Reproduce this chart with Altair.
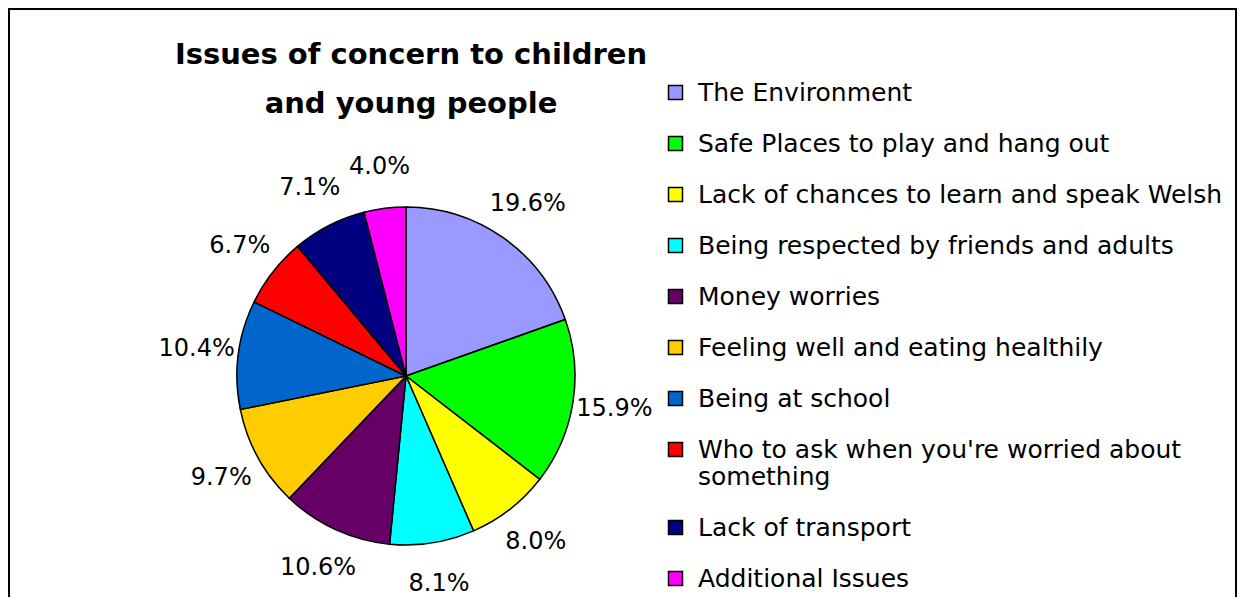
import altair as alt
import pandas as pd

categories = [
    "The Environment",
    "Safe Places to play and hang out",
    "Lack of chances to learn and speak Welsh",
    "Being respected by friends and adults",
    "Money worries",
    "Feeling well and eating healthily",
    "Being at school",
    "Who to ask when you're worried about something",
    "Lack of transport",
    "Additional Issues",
]
values = [19.6, 15.9, 8.0, 8.1, 10.6, 9.7, 10.4, 6.7, 7.1, 4.0]
colors = ["#9999FF", "#00FF00", "#FFFF00", "#00FFFF", "#660066",
          "#FFCC00", "#0066CC", "#FF0000", "#000080", "#FF00FF"]
title_lines = ["Issues of concern to children", "and young people"]

W, H = 1230, 589
CX, CY = 398, 368
FONT = "DejaVu Sans"

df = pd.DataFrame({
    "category": categories,
    "value": values,
    "idx": list(range(len(categories))),
    "label": [f"{v:.1f}%" for v in values],
})

legend = alt.Legend(
    title=None, orient="none", legendX=655, legendY=72,
    symbolType="square", symbolSize=196, symbolStrokeColor="black",
    symbolStrokeWidth=1.5, symbolOpacity=1,
    labelFont=FONT, labelFontSize=25, labelColor="black",
    labelOffset=10, labelLimit=700, rowPadding=25, padding=0,
    labelExpr="indexof(datum.label, ' something') > 0 ? [replace(datum.label, ' something', ''), 'something'] : datum.label",
)

base = alt.Chart(df).encode(
    theta=alt.Theta("value:Q", stack=True),
    order=alt.Order("idx:Q"),
)

arcs = base.mark_arc(outerRadius=169, stroke="black", strokeWidth=1.5).encode(
    x=alt.value(CX), y=alt.value(CY),
    color=alt.Color("category:N", scale=alt.Scale(domain=categories, range=colors),
                    sort=categories, legend=legend),
)

pct = base.mark_text(radius=211, font=FONT, fontSize=24, color="black").encode(
    x=alt.value(CX), y=alt.value(CY),
    text="label:N",
)

title_df = pd.DataFrame({"t": ["\n".join(title_lines)]})
title = alt.Chart(title_df).mark_text(
    font=FONT, fontSize=29, fontWeight="bold", color="black",
    lineBreak="\n", lineHeight=49, align="center", baseline="alphabetic",
).encode(text="t:N", x=alt.value(403), y=alt.value(56))

one = pd.DataFrame({"a": [0]})
left = alt.Chart(one).mark_rule(color="black", strokeWidth=2).encode(
    x=alt.value(1), y=alt.value(0), y2=alt.value(H + 20))
top = alt.Chart(one).mark_rule(color="black", strokeWidth=2).encode(
    x=alt.value(0), x2=alt.value(W - 1), y=alt.value(1))
right = alt.Chart(one).mark_rule(color="black", strokeWidth=2).encode(
    x=alt.value(W - 2), y=alt.value(0), y2=alt.value(H + 20))

chart = alt.layer(arcs, pct, title, left, top, right).properties(
    width=W, height=H, padding=0, autosize="none",
    background="white",
).configure_view(stroke=None)

chart.save("out.html", embed_options={"renderer": "svg", "actions": False})
